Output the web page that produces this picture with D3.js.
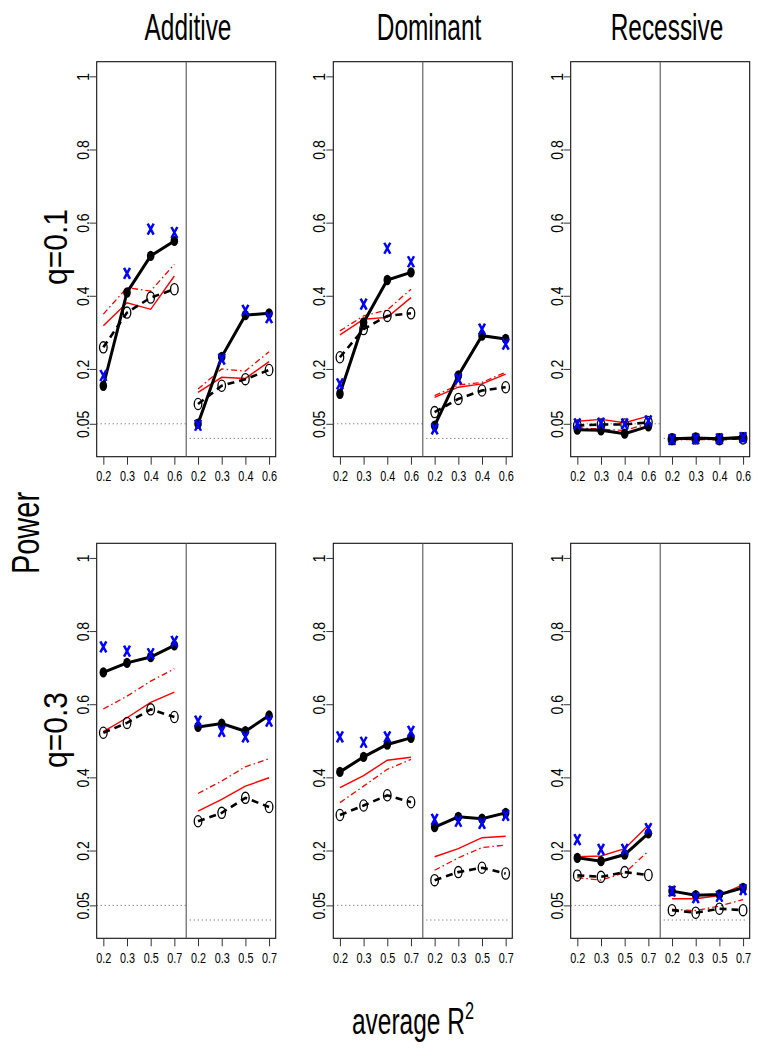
<!DOCTYPE html>
<html><head><meta charset="utf-8">
<script src="https://cdn.jsdelivr.net/npm/d3@7"></script>
<style>body{margin:0;background:#fff}svg{display:block}</style>
</head><body>
<script>
// ---------- data ----------
const models = ["Additive", "Dominant", "Recessive"];
const rowLabels = ["q=0.1", "q=0.3"];
const xLabelsTop = ["0.2", "0.3", "0.4", "0.6"];
const xLabelsBottom = ["0.2", "0.3", "0.5", "0.7"];
const yTicks = [0.05, 0.2, 0.4, 0.6, 0.8, 1];
const alphaLeft = 0.05, alphaRight = 0.01;

// 8 values per series: first 4 = left half, last 4 = right half
const add1_filled  = [0.154,0.409,0.509,0.550, 0.050,0.233,0.347,0.352];
const add1_cross   = [0.182,0.461,0.582,0.573, 0.046,0.227,0.360,0.340];
const add1_open    = [0.259,0.354,0.395,0.418, 0.104,0.154,0.172,0.197];
const add1_red     = [0.318,0.381,0.363,0.454, 0.136,0.177,0.174,0.220];
const add1_redDash = [0.350,0.422,0.413,0.486, 0.145,0.200,0.194,0.247];

const dom1_filled  = [0.132,0.327,0.443,0.464, 0.045,0.182,0.291,0.282];
const dom1_cross   = [0.159,0.377,0.530,0.493, 0.036,0.173,0.309,0.268];
const dom1_open    = [0.232,0.309,0.345,0.352, 0.082,0.118,0.141,0.150];
const dom1_red     = [0.293,0.336,0.341,0.395, 0.122,0.150,0.159,0.186];
const dom1_redDash = [0.304,0.345,0.361,0.418, 0.127,0.156,0.163,0.191];

const rec1_filled  = [0.034,0.032,0.023,0.043, 0.009,0.011,0.009,0.013];
const rec1_cross   = [0.050,0.052,0.050,0.058, 0.007,0.009,0.009,0.012];
const rec1_open    = [0.045,0.048,0.048,0.054, 0.008,0.010,0.008,0.010];
const rec1_red     = [0.057,0.062,0.053,0.071, 0.008,0.010,0.009,0.012];
const rec1_redDash = [0.039,0.035,0.032,0.050, 0.006,0.007,0.006,0.010];

const add3_filled  = [0.687,0.713,0.729,0.761, 0.538,0.547,0.526,0.569];
const add3_cross   = [0.757,0.745,0.738,0.772, 0.554,0.526,0.511,0.554];
const add3_open    = [0.522,0.549,0.586,0.565, 0.280,0.303,0.344,0.319];
const add3_red     = [0.525,0.563,0.605,0.633, 0.308,0.340,0.376,0.399];
const add3_redDash = [0.587,0.622,0.663,0.697, 0.356,0.390,0.429,0.451];

const dom3_filled  = [0.415,0.456,0.490,0.508, 0.264,0.292,0.287,0.303];
const dom3_cross   = [0.511,0.496,0.511,0.526, 0.285,0.280,0.274,0.296];
const dom3_open    = [0.297,0.323,0.351,0.332, 0.119,0.141,0.153,0.137];
const dom3_red     = [0.372,0.405,0.447,0.455, 0.183,0.205,0.235,0.239];
const dom3_redDash = [0.331,0.376,0.422,0.449, 0.146,0.180,0.208,0.215];

const rec3_filled  = [0.180,0.171,0.189,0.247, 0.089,0.078,0.080,0.098];
const rec3_cross   = [0.230,0.203,0.203,0.260, 0.089,0.071,0.075,0.093];
const rec3_open    = [0.132,0.128,0.141,0.133, 0.037,0.030,0.041,0.037];
const rec3_red     = [0.183,0.185,0.205,0.269, 0.068,0.068,0.077,0.107];
const rec3_redDash = [0.126,0.119,0.139,0.198, 0.039,0.036,0.048,0.066];

const panels = [
  [ {filled:add1_filled, cross:add1_cross, open:add1_open, red:add1_red, redDash:add1_redDash},
    {filled:dom1_filled, cross:dom1_cross, open:dom1_open, red:dom1_red, redDash:dom1_redDash},
    {filled:rec1_filled, cross:rec1_cross, open:rec1_open, red:rec1_red, redDash:rec1_redDash} ],
  [ {filled:add3_filled, cross:add3_cross, open:add3_open, red:add3_red, redDash:add3_redDash},
    {filled:dom3_filled, cross:dom3_cross, open:dom3_open, red:dom3_red, redDash:dom3_redDash},
    {filled:rec3_filled, cross:rec3_cross, open:rec3_open, red:rec3_red, redDash:rec3_redDash} ]
];

// ---------- layout ----------
const FONT = "'Liberation Sans', Arial, Helvetica, sans-serif";
const KH = 0.70;  // horizontal text condensation
const KR = 1.17;  // rotated text glyph-height scaling
const colLeft = [96.7, 333.3, 570.7];
const rowTop = [61.7, 543.3];
const PW = 179, PH = 395;

const svg = d3.select("body").append("svg").attr("width", 776).attr("height", 1050)
  .attr("font-family", FONT);

const x = d3.scaleLinear().domain([0.72, 8.28]).range([0, PW]);
const y = d3.scaleLinear().domain([-0.04, 1.04]).range([PH, 0]);
const idx = d3.range(1, 9);

function drawPanel(g, data, xLabels) {
  g.append("rect").attr("x", 0).attr("y", 0).attr("width", PW).attr("height", PH)
    .attr("fill", "none").attr("stroke", "#111").attr("stroke-width", 1.1);
  g.append("line").attr("x1", x(4.5)).attr("x2", x(4.5)).attr("y1", 0).attr("y2", PH)
    .attr("stroke", "#555").attr("stroke-width", 1.1);
  g.append("line").attr("x1", x(0.72)).attr("x2", x(4.5))
    .attr("y1", y(alphaLeft)).attr("y2", y(alphaLeft))
    .attr("stroke", "#555").attr("stroke-width", 1).attr("stroke-dasharray", "1,3");
  g.append("line").attr("x1", x(4.65)).attr("x2", x(8.15))
    .attr("y1", y(alphaRight)).attr("y2", y(alphaRight))
    .attr("stroke", "#555").attr("stroke-width", 1).attr("stroke-dasharray", "1,3");

  const ya = g.append("g").call(d3.axisLeft(y).tickValues(yTicks).tickSize(7).tickFormat(d3.format("")));
  const xa = g.append("g").attr("transform", `translate(0,${PH})`)
    .call(d3.axisBottom(x).tickValues(idx).tickSize(8).tickFormat(i => xLabels[(i - 1) % 4]));
  [ya, xa].forEach(a => {
    a.select(".domain").remove();
    a.attr("font-family", FONT);
    a.selectAll("line").attr("stroke", "#333");
    a.selectAll("text").attr("fill", "#000");
  });
  ya.attr("font-size", 14);
  xa.attr("font-size", 15.5);
  ya.selectAll("text").attr("x", null).attr("dy", "0.36em").attr("text-anchor", "middle")
    .attr("transform", `translate(-14,0) scale(${KR},1) rotate(-90)`);
  xa.selectAll("text").attr("y", 0).attr("dy", null).attr("text-anchor", "middle")
    .attr("transform", `translate(0,24.5) scale(${KH},1)`);

  const halves = [[0, 1, 2, 3], [4, 5, 6, 7]];
  const line = d3.line().x(i => x(i + 1));

  function series(arr, attrs) {
    halves.forEach(h => {
      const p = g.append("path").attr("d", line.y(i => y(arr[i]))(h)).attr("fill", "none");
      Object.entries(attrs).forEach(([k, v]) => p.attr(k, v));
    });
  }
  series(data.red, {stroke: "#ff0000", "stroke-width": 1.4});
  series(data.redDash, {stroke: "#ff0000", "stroke-width": 1.3, "stroke-dasharray": "6,3,1.5,3"});
  series(data.open, {stroke: "#000", "stroke-width": 2.6, "stroke-dasharray": "7,5"});
  g.append("g").selectAll("ellipse").data(idx).join("ellipse")
    .attr("cx", i => x(i)).attr("cy", i => y(data.open[i - 1]))
    .attr("rx", 3.8).attr("ry", 5.6).attr("fill", "none").attr("stroke", "#000").attr("stroke-width", 1.3);
  series(data.filled, {stroke: "#000", "stroke-width": 3});
  g.append("g").selectAll("ellipse").data(idx).join("ellipse")
    .attr("cx", i => x(i)).attr("cy", i => y(data.filled[i - 1]))
    .attr("rx", 3.8).attr("ry", 5.2).attr("fill", "#000");
  g.append("g").selectAll("path").data(idx).join("path")
    .attr("transform", i => `translate(${x(i)},${y(data.cross[i - 1])})`)
    .attr("d", "M-3,-5.5L3,5.5M3,-5.5L-3,5.5")
    .attr("stroke", "#0000ff").attr("stroke-width", 2.5).attr("fill", "none");
}

rowTop.forEach((ty, r) => {
  colLeft.forEach((tx, c) => {
    const g = svg.append("g").attr("transform", `translate(${tx},${ty})`);
    drawPanel(g, panels[r][c], r === 0 ? xLabelsTop : xLabelsBottom);
  });
});

// titles
const titleX = [188, 429, 667];
models.forEach((m, c) => {
  svg.append("text").attr("transform", `translate(${titleX[c]},40) scale(0.66,1)`)
    .attr("text-anchor", "middle").attr("font-size", 37).text(m);
});
// row labels
const rowLabelY = [247, 730];
rowLabels.forEach((t, r) => {
  svg.append("text").attr("transform", `translate(59,${rowLabelY[r]}) scale(1.1,1) rotate(-90)`)
    .attr("text-anchor", "middle").attr("dy", "0.25em").attr("font-size", 30).text(t);
});
// Power
svg.append("text").attr("transform", `translate(25,533) scale(1.35,1) rotate(-90)`)
  .attr("text-anchor", "middle").attr("dy", "0.36em").attr("font-size", 29).text("Power");
// x axis title
const xt = svg.append("text").attr("transform", `translate(413,1034) scale(0.68,1)`)
  .attr("text-anchor", "middle").attr("font-size", 36);
xt.append("tspan").text("average R");
xt.append("tspan").attr("font-size", 24).attr("dy", -15).text("2");
</script>
</body></html>
